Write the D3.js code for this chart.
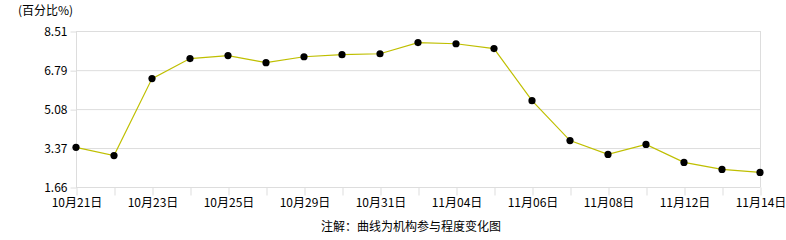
<!DOCTYPE html>
<html lang="zh">
<head>
<meta charset="UTF-8">
<title>机构参与程度</title>
<script src="https://cdn.jsdelivr.net/npm/d3@7"></script>
<style>
    body { margin: 0; background: #fff; }
    text { font-family: "Noto Sans CJK SC", sans-serif; font-size: 12px; fill: #000; }
</style>
</head>
<body>
<svg width="786" height="240"></svg>
<script>
    // data
    const dates = ["10月21日", "10月22日", "10月23日", "10月24日", "10月25日", "10月28日", "10月29日",
        "10月30日", "10月31日", "11月01日", "11月04日", "11月05日", "11月06日", "11月07日",
        "11月08日", "11月11日", "11月12日", "11月13日", "11月14日"];
    const values = [3.40, 3.04, 6.42, 7.30, 7.43, 7.12, 7.38, 7.47, 7.51, 8.00, 7.95, 7.74,
        5.45, 3.70, 3.09, 3.53, 2.74, 2.43, 2.30];
    const yTicks = [1.66, 3.37, 5.08, 6.79, 8.51];
    const labelEvery = 2;

    const svg = d3.select("svg");
    const plotL = 76, plotR = 760, plotT = 31, plotB = 187;

    const x = d3.scalePoint().domain(dates).range([plotL, plotR]);
    const y = d3.scaleLinear().domain([1.66, 8.51]).range([plotB, plotT]);

    // horizontal grid
    svg.append("g").selectAll("line")
        .data(yTicks)
        .join("line")
        .attr("x1", plotL).attr("x2", plotR)
        .attr("y1", d => y(d) + 0.5).attr("y2", d => y(d) + 0.5)
        .attr("stroke", "#dddddd");

    // right border
    svg.append("line")
        .attr("x1", plotR + 0.5).attr("x2", plotR + 0.5)
        .attr("y1", plotT).attr("y2", plotB)
        .attr("stroke", "#dddddd");

    // y axis
    const yAxis = svg.append("g")
        .attr("transform", `translate(${plotL + 0.5},0.5)`)
        .call(d3.axisLeft(y).tickValues(yTicks).tickFormat(d3.format(".2f")).tickSize(6).tickPadding(3));
    yAxis.selectAll("line, path").attr("stroke", "#dddddd");
    yAxis.select(".domain").attr("d", `M0,${plotT}V${plotB}`);
    yAxis.selectAll("text").attr("font-size", null).attr("font-family", null);

    // x axis
    const xAxis = svg.append("g")
        .attr("transform", `translate(0.5,${plotB + 0.5})`)
        .call(d3.axisBottom(x).tickSize(8).tickPadding(3)
            .tickFormat((d, i) => i % labelEvery === 0 ? d : ""));
    xAxis.selectAll("line, path").attr("stroke", "#dddddd");
    xAxis.select(".domain").attr("d", `M${plotL},0H${plotR}`);
    xAxis.selectAll("text").attr("font-size", null).attr("font-family", null);

    // line
    svg.append("path")
        .datum(values)
        .attr("fill", "none")
        .attr("stroke", "#bfbf00")
        .attr("stroke-width", 1.2)
        .attr("d", d3.line().x((d, i) => x(dates[i])).y(d => y(d)));

    // dots
    svg.append("g").selectAll("circle")
        .data(values)
        .join("circle")
        .attr("cx", (d, i) => x(dates[i]))
        .attr("cy", d => y(d))
        .attr("r", 3.6)
        .attr("fill", "#000");

    svg.append("text")
        .attr("x", 18).attr("y", 15)
        .text("(百分比%)");

    svg.append("text")
        .attr("x", 411).attr("y", 231)
        .attr("text-anchor", "middle")
        .text("注解：曲线为机构参与程度变化图");
</script>
</body>
</html>
